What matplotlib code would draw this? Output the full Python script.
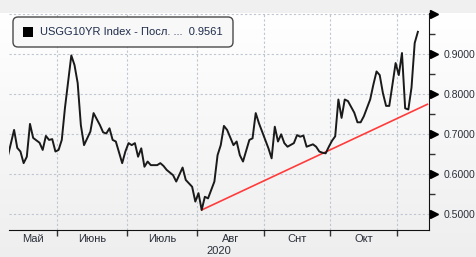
import numpy as np
import matplotlib
matplotlib.use("Agg")
import matplotlib.pyplot as plt
from matplotlib.patches import FancyBboxPatch, Rectangle
from matplotlib import transforms

plt.rcParams['font.family'] = ['Liberation Sans', 'DejaVu Sans']

# US 10Y yield, Bloomberg-style chart (trading-day axis)
dates = ['2020-05-07', '2020-05-11', '2020-05-12', '2020-05-13', '2020-05-14', '2020-05-15',
         '2020-05-18', '2020-05-19', '2020-05-21', '2020-05-22', '2020-05-26', '2020-05-27',
         '2020-05-28', '2020-05-29', '2020-06-01', '2020-06-02', '2020-06-03', '2020-06-05',
         '2020-06-08', '2020-06-09', '2020-06-10', '2020-06-11', '2020-06-15', '2020-06-16',
         '2020-06-18', '2020-06-19', '2020-06-22', '2020-06-23', '2020-06-24', '2020-06-25',
         '2020-06-29', '2020-06-30', '2020-07-01', '2020-07-02', '2020-07-06', '2020-07-07',
         '2020-07-08', '2020-07-09', '2020-07-10', '2020-07-13', '2020-07-15', '2020-07-16',
         '2020-07-17', '2020-07-20', '2020-07-22', '2020-07-23', '2020-07-27', '2020-07-28',
         '2020-07-30', '2020-07-31', '2020-08-03', '2020-08-04', '2020-08-05', '2020-08-06',
         '2020-08-10', '2020-08-11', '2020-08-12', '2020-08-13', '2020-08-14', '2020-08-18',
         '2020-08-19', '2020-08-20', '2020-08-21', '2020-08-25', '2020-08-26', '2020-08-27',
         '2020-08-28', '2020-08-31', '2020-09-02', '2020-09-03', '2020-09-04', '2020-09-08',
         '2020-09-09', '2020-09-10', '2020-09-11', '2020-09-15', '2020-09-16', '2020-09-17',
         '2020-09-18', '2020-09-21', '2020-09-23', '2020-09-24', '2020-09-25', '2020-09-28',
         '2020-09-29', '2020-09-30', '2020-10-01', '2020-10-02', '2020-10-05', '2020-10-06',
         '2020-10-07', '2020-10-08', '2020-10-13', '2020-10-14', '2020-10-15', '2020-10-16',
         '2020-10-20', '2020-10-21', '2020-10-22', '2020-10-23', '2020-10-26', '2020-10-27',
         '2020-10-28', '2020-10-29', '2020-10-30', '2020-11-02', '2020-11-03', '2020-11-04',
         '2020-11-05', '2020-11-06', '2020-11-09', '2020-11-10']
yields = [0.644, 0.711, 0.666, 0.657, 0.628, 0.644,
          0.726, 0.691, 0.679, 0.661, 0.696, 0.686,
          0.688, 0.657, 0.661, 0.686, 0.766, 0.897,
          0.873, 0.828, 0.723, 0.673, 0.707, 0.753,
          0.723, 0.705, 0.702, 0.715, 0.686, 0.682,
          0.628, 0.657, 0.678, 0.673, 0.678, 0.644,
          0.665, 0.619, 0.632, 0.623, 0.623, 0.628,
          0.621, 0.611, 0.598, 0.582, 0.617, 0.586,
          0.569, 0.532, 0.553, 0.511, 0.544, 0.540,
          0.582, 0.648, 0.673, 0.721, 0.711, 0.673,
          0.682, 0.648, 0.632, 0.686, 0.690, 0.753,
          0.728, 0.707, 0.665, 0.640, 0.719, 0.682,
          0.700, 0.678, 0.669, 0.678, 0.698, 0.694,
          0.697, 0.669, 0.675, 0.669, 0.657, 0.654,
          0.6525, 0.669, 0.684, 0.695, 0.787, 0.741,
          0.787, 0.783, 0.754, 0.730, 0.730, 0.745,
          0.787, 0.824, 0.857, 0.848, 0.803, 0.771,
          0.771, 0.824, 0.878, 0.848, 0.903, 0.765,
          0.762, 0.817, 0.928, 0.956]

trend_dates = ['2020-08-04', '2020-11-16']
trend_vals = [0.511, 0.775]

month_starts = ['2020-06-01', '2020-07-01', '2020-08-01', '2020-09-01', '2020-10-01', '2020-11-01']
month_names = ['Май', 'Июнь', 'Июль', 'Авг', 'Снт', 'Окт']
ytick_vals = [0.5, 0.6, 0.7, 0.8, 0.9, 1.0]
ytick_labels = ['0.5000', '0.6000', '0.7000', '0.8000', '0.9000', '']
yminor_vals = [0.55, 0.65, 0.75, 0.85, 0.95]
legend_text = 'USGG10YR Index - Посл. ...  0.9561'
year_text = '2020'

holidays = ['2020-05-25', '2020-07-03', '2020-09-07', '2020-10-12', '2020-11-11']


def tpos(d):
    # trading-day index from May 1
    return np.busday_count('2020-05-01', d, holidays=holidays)


W, H = 476, 257
fig = plt.figure(figsize=(W / 100, H / 100), dpi=100, facecolor='#f0f0f0')

# soft gradient background below top strip
bg = fig.add_axes([0, 0, 1, (H - 13) / H], zorder=-5)
grad = np.linspace(1.0, 0.935, 100).reshape(-1, 1)
bg.imshow(np.dstack([grad, grad, grad]), aspect='auto', extent=[0, 1, 0, 1])
bg.axis('off')

ax = fig.add_axes([9 / W, (H - 230) / H, (429 - 9) / W, (230 - 13) / H])
ax.set_facecolor('none')

x = tpos(dates)
ax.plot(x, yields, color='#1a1a1a', lw=1.4, zorder=3, solid_joinstyle='round')
ax.plot(tpos(trend_dates), trend_vals, color='#ff3b3b', lw=1.2, zorder=2)

xmin, xmax = 4.4, 136.5
ax.set_xlim(xmin, xmax)
ax.set_ylim(0.461, 1.003)

bounds = [tpos(m) - 0.5 for m in month_starts]
edges = [xmin] + bounds
centers = [(edges[k] + edges[k + 1]) / 2 for k in range(len(month_names))]
ax.set_xticks(bounds)
ax.set_xticklabels([])
ax.set_xticks(centers, minor=True)
ax.set_xticklabels(month_names, minor=True)
ax.tick_params(axis='x', which='major', length=4, width=1, color='#333333', direction='out')
ax.tick_params(axis='x', which='minor', length=0, pad=3, labelsize=8, labelcolor='#2a2f3a')
ax.text(0.5, -0.072, year_text, transform=ax.transAxes, ha='center', va='top',
        fontsize=8, color='#2a2f3a')

ax.yaxis.tick_right()
ax.set_yticks(ytick_vals)
ax.set_yticklabels(ytick_labels)
ax.set_yticks(yminor_vals, minor=True)
ax.tick_params(axis='y', which='major', length=0, pad=10.5, labelsize=7.6, labelcolor='#2a2f3a')
ax.tick_params(axis='y', which='minor', length=4, width=1, color='#333333', direction='out')

# triangle markers on right axis
off = transforms.ScaledTranslation(5 / 100, 0, fig.dpi_scale_trans)
tr = transforms.blended_transform_factory(ax.transAxes, ax.transData) + off
ax.plot([1.0] * len(ytick_vals), ytick_vals, linestyle='none', marker='>', ms=6,
        color='black', transform=tr, clip_on=False)

ax.grid(True, which='major', color='#bfc6d2', lw=0.8, linestyle=(0, (2, 2)))
for s in ['left', 'top']:
    ax.spines[s].set_visible(False)
ax.spines['bottom'].set_color('#111111')
ax.spines['right'].set_color('#111111')

# legend box in pixel units
px = fig.dpi_scale_trans
box = FancyBboxPatch((13 / 100, (H - 47) / 100), 220 / 100, 30 / 100,
                     boxstyle='round,pad=0,rounding_size=0.05', transform=px,
                     facecolor='#f8f8f8', edgecolor='#4a4a4a', lw=1, zorder=10)
fig.add_artist(box)
fig.add_artist(Rectangle((23 / 100, (H - 37) / 100), 10 / 100, 10 / 100, transform=px,
                         facecolor='black', edgecolor='none', zorder=11))
fig.text(40 / 100, (H - 32) / 100, legend_text, transform=px, va='center', ha='left',
         fontsize=8, color='#1e2c4a', zorder=12)

fig.savefig('out.png', dpi=100, facecolor=fig.get_facecolor())
